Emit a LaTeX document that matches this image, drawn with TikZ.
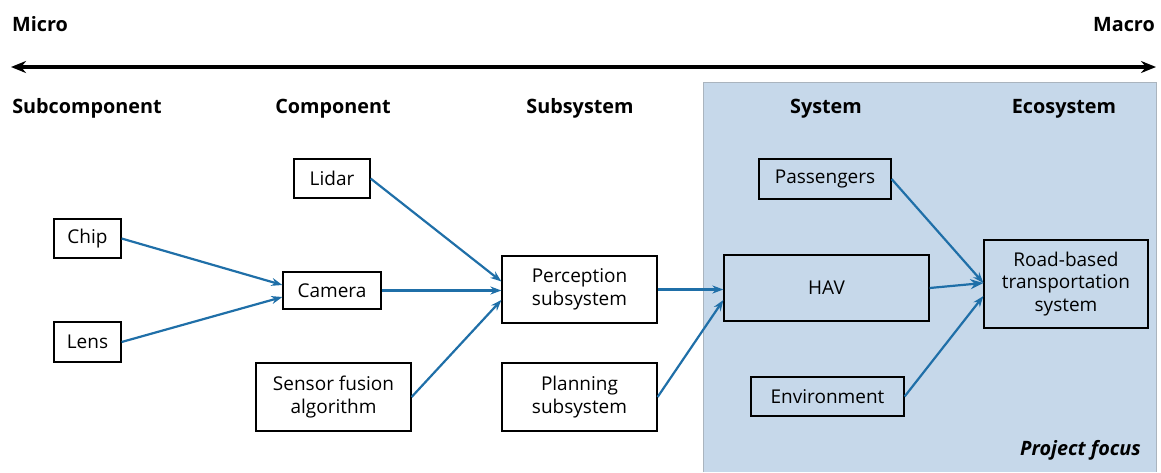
\documentclass[tikz,border=0pt]{standalone}
\usepackage{fontspec}
\setmainfont{Open Sans}
\usetikzlibrary{arrows.meta}
\definecolor{flowblue}{RGB}{31,111,168}
\definecolor{focusfill}{RGB}{198,216,234}
\definecolor{focusedge}{RGB}{170,180,190}
\begin{document}
\begin{tikzpicture}[x=1pt,y=-1pt,
  item/.style={draw=black,line width=1.2pt,fill=white,inner sep=0pt,align=center,
    font=\fontsize{19}{22.5}\selectfont},
  focusitem/.style={item,fill=none},
  level/.style={font=\fontsize{19.8}{23}\selectfont\bfseries},
  flow/.style={draw=flowblue,line width=2.2pt,-{Stealth[length=11pt,width=8pt]}},
  scale arrow/.style={line width=3.6pt,{Stealth[length=15pt,width=12pt]}-{Stealth[length=15pt,width=12pt]}}]
\useasboundingbox (0,0) rectangle (1161,472);

% shaded region of the project focus
\fill[focusfill] (703,82) rectangle (1156,472);
\draw[focusedge,line width=0.8pt] (703,472) -- (703,82) -- (1156,82) -- (1156,472);

% micro / macro scale
\node[level,anchor=base west,inner sep=0pt] (micro) at (12,31) {Micro};
\node[level,anchor=base east,inner sep=0pt] (macro) at (1155,31) {Macro};
\coordinate (scaleL) at (11,67);
\coordinate (scaleR) at (1156,67);
\draw[scale arrow] (scaleL) -- (scaleR);

% level headings
\node[level,anchor=base] (hsub)  at (87,113) {Subcomponent};
\node[level,anchor=base] (hcomp) at (333,113) {Component};
\node[level,anchor=base] (hsys)  at (580,113) {Subsystem};
\node[level,anchor=base] (hsystem) at (826,113) {System};
\node[level,anchor=base] (heco)  at (1064,113) {Ecosystem};

% subcomponents
\node[item,minimum width=67pt,minimum height=39pt] (chip) at (87.5,238.5) {Chip};
\node[item,minimum width=67pt,minimum height=40pt] (lens) at (87.5,342) {Lens};

% components
\node[item,minimum width=76pt,minimum height=39pt] (lidar) at (332,178.5) {Lidar};
\node[item,minimum width=98pt,minimum height=37pt] (camera) at (332,290.5) {Camera};
\node[item,minimum width=155pt,minimum height=68pt] (fusion) at (333.5,397) {Sensor fusion\\algorithm};

% subsystems
\node[item,minimum width=155pt,minimum height=67pt] (perception) at (579.5,289.5) {Perception\\subsystem};
\node[item,minimum width=155pt,minimum height=68pt] (planning) at (579.5,397) {Planning\\subsystem};

% system
\node[focusitem,minimum width=132pt,minimum height=40pt] (passengers) at (825,179) {Passengers};
\node[focusitem,minimum width=205pt,minimum height=66pt] (hav) at (826.5,288) {HAV};
\node[focusitem,minimum width=153pt,minimum height=39pt] (environment) at (827.5,396.5) {Environment};

% ecosystem
\node[focusitem,minimum width=164pt,minimum height=88pt] (road) at (1066,284) {Road-based\\transportation\\system};

\node[anchor=base east,inner sep=0pt,font=\fontsize{19.8}{23}\selectfont\bfseries\itshape] (focus) at (1141,455) {Project focus};

% connections (yshift points up on the page)
\draw[flow] (chip.east) -- ([yshift=5.5pt]camera.west);
\draw[flow] (lens.east) -- ([yshift=-6.5pt]camera.west);
\draw[flow] (lidar.east) -- ([yshift=8pt]perception.west);
\draw[flow] (camera.east) -- ([yshift=-1pt]perception.west);
\draw[flow] (fusion.east) -- ([yshift=-10.5pt]perception.west);
\draw[flow] (perception.east) -- ([yshift=-1.5pt]hav.west);
\draw[flow] (planning.east) -- ([yshift=-12pt]hav.west);
\draw[flow] (passengers.east) -- ([yshift=1pt]road.west);
\draw[flow,-{Stealth[length=13pt,width=10pt]}] (hav.east) -- ([yshift=1pt]road.west);
\draw[flow] (environment.east) -- ([yshift=-12pt]road.west);
\end{tikzpicture}
\end{document}
